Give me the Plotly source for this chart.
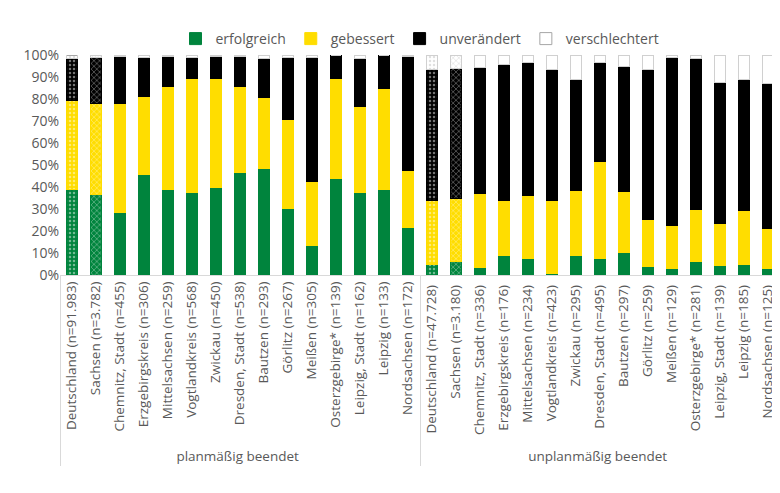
import plotly.graph_objects as go

regions = ["Deutschland", "Sachsen", "Chemnitz, Stadt", "Erzgebirgskreis", "Mittelsachsen",
           "Vogtlandkreis", "Zwickau", "Dresden, Stadt", "Bautzen", "Görlitz", "Meißen",
           "Osterzgebirge*", "Leipzig, Stadt", "Leipzig", "Nordsachsen"]
n_plan = ["91.983", "3.782", "455", "306", "259", "568", "450", "538", "293", "267",
          "305", "139", "162", "133", "172"]
n_unplan = ["47.728", "3.180", "336", "176", "234", "423", "295", "495", "297", "259",
            "129", "281", "139", "185", "125"]
groups = ["planmäßig beendet", "unplanmäßig beendet"]

# cumulative tops (percent)
plan_green = [38.8, 36.5, 28.4, 45.9, 38.8, 37.7, 40.0, 46.4, 48.2, 30.4, 13.2, 43.8, 37.5, 39.0, 21.4]
plan_yellow = [79.3, 77.8, 78.0, 81.3, 85.7, 89.5, 89.1, 85.9, 80.7, 70.7, 42.6, 89.1, 76.7, 84.8, 47.4]
plan_black = [98.5, 98.8, 99.5, 98.8, 99.2, 98.8, 99.2, 99.1, 98.2, 98.8, 98.8, 100, 98.5, 100, 99.1]
unplan_green = [4.9, 6.1, 3.2, 8.8, 7.6, 0.5, 8.7, 7.6, 10.2, 3.8, 3.0, 6.2, 4.1, 4.9, 3.0]
unplan_yellow = [33.7, 35.0, 36.9, 33.7, 36.0, 34.0, 38.4, 51.4, 37.8, 25.2, 22.3, 29.9, 23.6, 29.5, 21.3]
unplan_black = [93.2, 93.9, 94.1, 95.7, 96.4, 93.3, 88.9, 96.7, 95.0, 93.3, 98.8, 98.5, 87.7, 88.9, 87.2]

outer = [groups[0]] * 15 + [groups[1]] * 15
inner = [f"{r} (n={n})" for r, n in zip(regions, n_plan)] + \
        [f"{r} (n={n}) " for r, n in zip(regions, n_unplan)]

green = plan_green + unplan_green
yellow_top = plan_yellow + unplan_yellow
black_top = plan_black + unplan_black
series = {
    "erfolgreich": green,
    "gebessert": [y - g for y, g in zip(yellow_top, green)],
    "unverändert": [b - y for b, y in zip(black_top, yellow_top)],
    "verschlechtert": [100 - b for b in black_top],
}
colors = {"erfolgreich": "#00843D", "gebessert": "#FFDD00",
          "unverändert": "#000000", "verschlechtert": "#FFFFFF"}
shapes = (["." , "x"] + [""] * 13) * 2

fig = go.Figure()
for name, vals in series.items():
    edge = "#D0D0D0" if name == "verschlechtert" else colors[name]
    fig.add_trace(go.Bar(
        x=[outer, inner], y=vals, name=name, showlegend=False,
        marker=dict(color=colors[name], line=dict(color=edge, width=1),
                    pattern=dict(shape=shapes, fgcolor="#BBBBBB" if name == "verschlechtert" else "white",
                                 fgopacity=0.45, size=4, solidity=0.3, fillmode="overlay")),
    ))
# solid legend entries
for name in series:
    edge = "#A6A6A6" if name == "verschlechtert" else colors[name]
    fig.add_trace(go.Bar(x=[[outer[0]], [inner[0]]], y=[0], name=name,
                         marker=dict(color=colors[name], line=dict(color=edge, width=1))))

fig.update_layout(
    barmode="stack", bargap=0.55, width=780, height=493,
    plot_bgcolor="white", paper_bgcolor="white",
    font=dict(family="Open Sans", size=14, color="#595959"),
    margin=dict(l=52, r=8, t=47, b=226),
    legend=dict(orientation="h", x=0.5, xanchor="center", y=1.0, yanchor="bottom",
                font=dict(size=14), traceorder="normal"),
    xaxis=dict(tickangle=-90, showdividers=True, dividercolor="#D9D9D9",
               linecolor="#D9D9D9", showline=True, tickfont=dict(size=13.5)),
    yaxis=dict(range=[0, 100], dtick=10, ticksuffix="%", showgrid=False,
               tickfont=dict(size=14), zeroline=False),
)
fig.write_html("out.html")
